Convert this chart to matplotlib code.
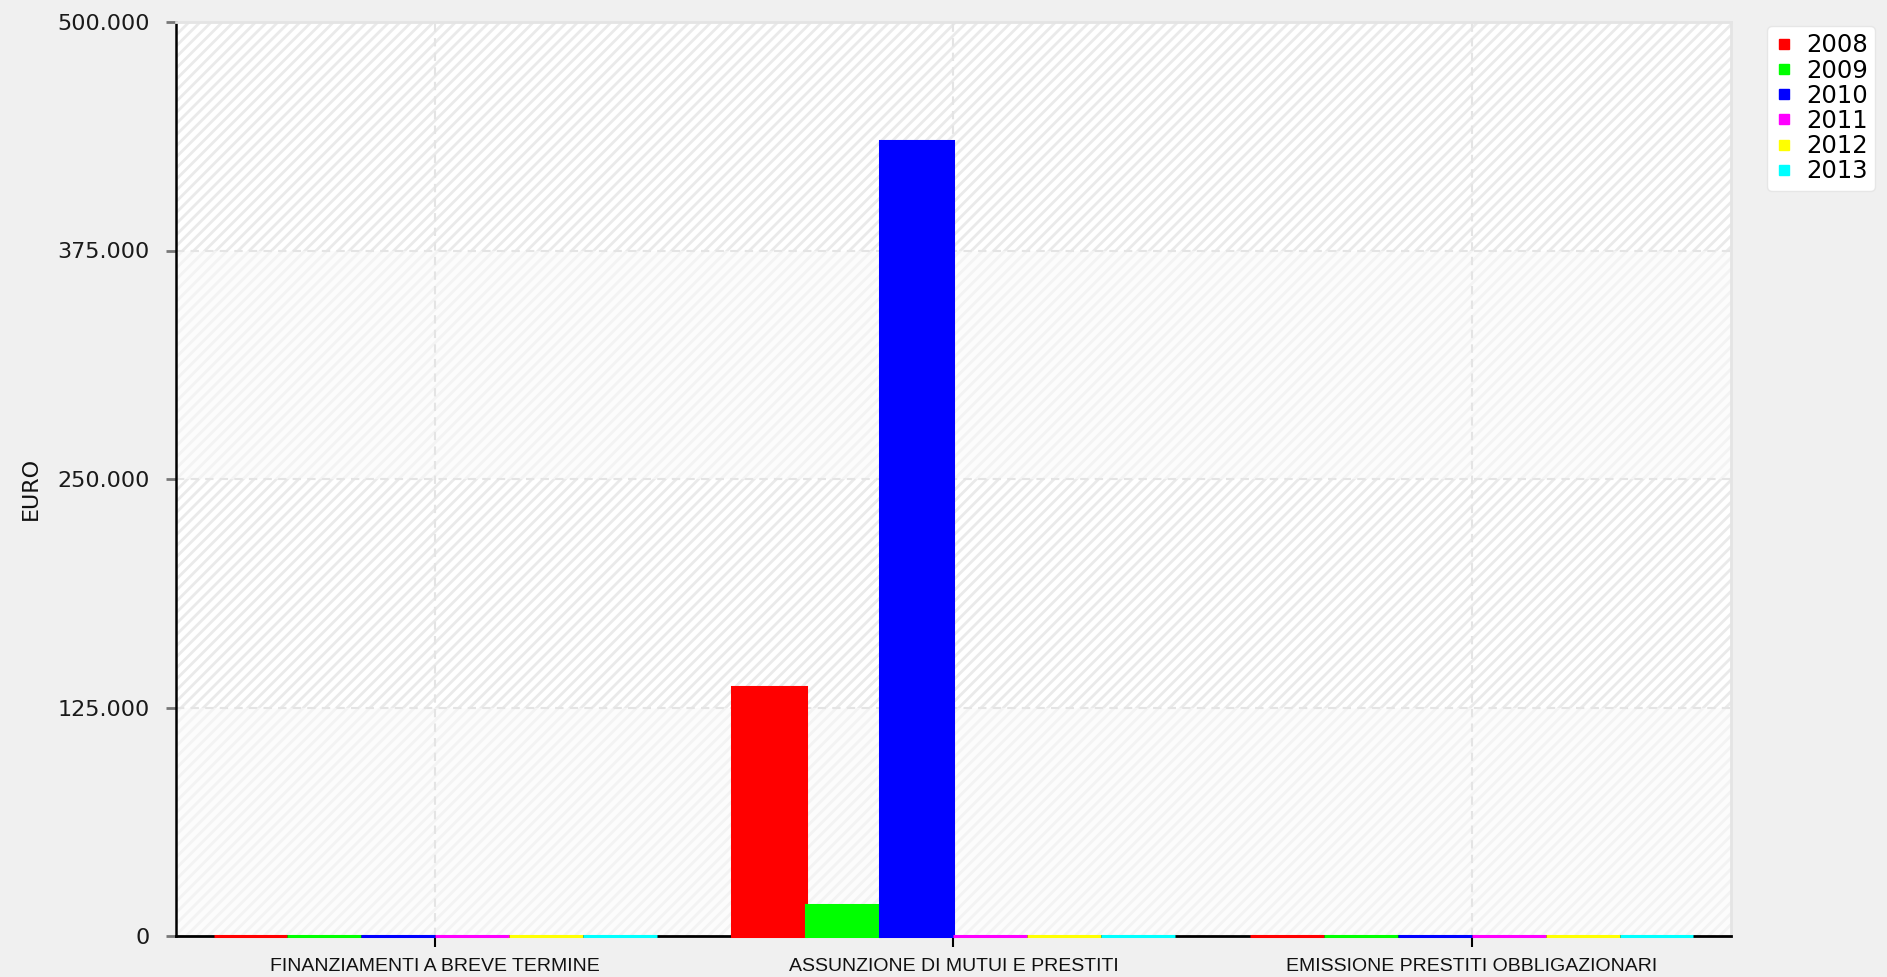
import numpy as np
import matplotlib.pyplot as plt
from matplotlib.ticker import FuncFormatter
from matplotlib.lines import Line2D

plt.rcParams['hatch.linewidth'] = 2.0

# entrate da accensione di prestiti, in euro
categorie = ['FINANZIAMENTI A BREVE TERMINE', 'ASSUNZIONE DI MUTUI E PRESTITI',
             'EMISSIONE PRESTITI OBBLIGAZIONARI']
anni = ['2008', '2009', '2010', '2011', '2012', '2013']
valori = {
    '2008': [0, 136000, 0],
    '2009': [0, 17000, 0],
    '2010': [0, 435000, 0],
    '2011': [0, 0, 0],
    '2012': [0, 0, 0],
    '2013': [0, 0, 0],
}
colori = ['#ff0000', '#00ff00', '#0000ff', '#ff00ff', '#ffff00', '#00ffff']
yticks = [0, 125000, 250000, 375000, 500000]

fig = plt.figure(figsize=(18.87, 9.77), dpi=100, facecolor='#f0f0f0')
ax = fig.add_axes([176/1887, 1 - 936/977, (1731 - 176)/1887, (936 - 22)/977])
ax.set_facecolor('#fbfbfb')

# bande alternate tratteggiate
for i in range(len(yticks) - 1):
    if i % 2 == 1:
        ax.axhspan(yticks[i], yticks[i + 1], facecolor='#ffffff', edgecolor='#eaeaea',
                   hatch='///', linewidth=0, zorder=0)
    else:
        ax.axhspan(yticks[i], yticks[i + 1], facecolor='#fcfcfc', edgecolor='#f3f3f3',
                   hatch='///', linewidth=0, zorder=0)

x = np.arange(len(categorie))
w = 0.855 / len(anni)
for k, (anno, col) in enumerate(zip(anni, colori)):
    pos = x - 0.4275 + w * (k + 0.5)
    ax.bar(pos, valori[anno], width=w, color=col, edgecolor=col, linewidth=2.2,
           zorder=3, clip_on=False)

ax.set_xlim(-0.5, 2.5)
ax.set_ylim(0, 500000)
ax.set_xticks(x)
ax.set_xticklabels(categorie, fontfamily='Liberation Sans', fontsize=14, color='#111111')
ax.set_yticks(yticks)
ax.yaxis.set_major_formatter(FuncFormatter(lambda v, p: f'{int(v):,}'.replace(',', '.')))
ax.tick_params(axis='y', labelsize=16, colors='#1a1a1a', length=7, width=2, pad=12,
               color='#777777')
ax.tick_params(axis='x', length=8, width=1.5, pad=8, color='#000000')

ax.grid(True, color='#e4e4e4', linestyle=(0, (4, 3)), linewidth=1.5, zorder=1)
ax.set_axisbelow(True)

for s in ['top', 'right']:
    ax.spines[s].set_color('#e4e4e4')
    ax.spines[s].set_linewidth(2)
ax.spines['left'].set_color('#000000')
ax.spines['left'].set_linewidth(1.8)
ax.spines['bottom'].set_color('#000000')
ax.spines['bottom'].set_linewidth(2)

ax.set_ylabel('EURO', fontsize=16, color='#111111')
ax.yaxis.set_label_coords(41/1887, 0.5, transform=fig.transFigure)

handles = [Line2D([], [], marker='s', linestyle='', markersize=7, color=c) for c in colori]
leg = fig.legend(handles, anni, loc='upper left', bbox_to_anchor=(1767/1887, 1 - 26/977),
                 prop={'size': 17.5}, frameon=True, fancybox=True, framealpha=1,
                 facecolor='white', edgecolor='#e6e6e6', handlelength=0.8,
                 handletextpad=0.5, labelspacing=0.05, borderpad=0.3, borderaxespad=0)
for t in leg.get_texts():
    t.set_color('#000000')

fig.savefig('out.png', dpi=100, facecolor=fig.get_facecolor())
